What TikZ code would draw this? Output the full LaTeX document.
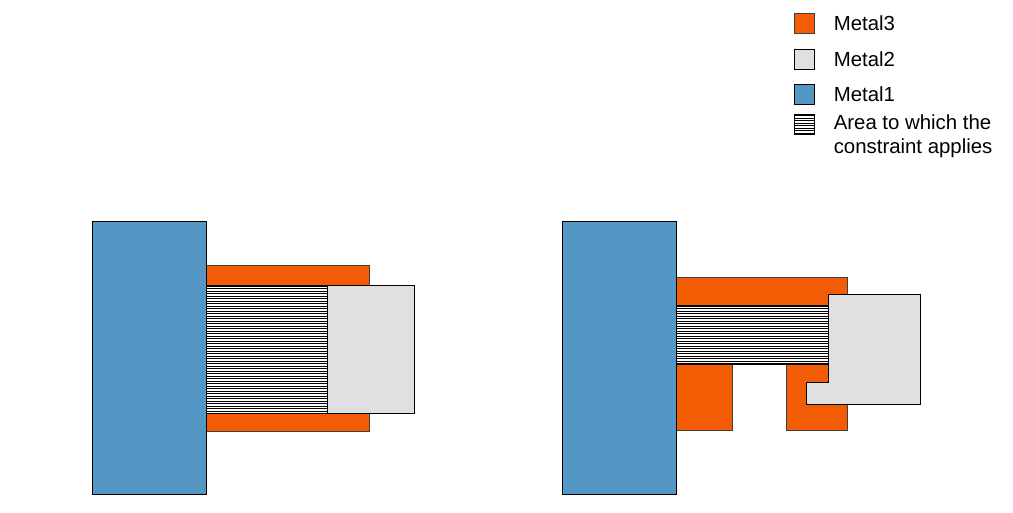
\documentclass[tikz,border=0pt]{standalone}
\usepackage{fontspec}
\setmainfont{Liberation Sans}
\usepackage{xcolor}
\usetikzlibrary{positioning}

\definecolor{metalthree}{RGB}{242,92,5}
\definecolor{metaltwo}{RGB}{224,224,224}
\definecolor{metalone}{RGB}{84,151,196}

\begin{document}
\begin{tikzpicture}[
            x=0.02cm, y=-0.02cm,
            layer/.style={draw=black, line width=0.5pt},
            mthree/.style={layer, draw=black!75, fill=metalthree},
            mtwo/.style={layer, fill=metaltwo},
            mone/.style={layer, fill=metalone},
            hatch/.style={layer, fill=white, path picture={
                \foreach \k in {1,...,60}
                    \draw[line width=0.75pt] ([yshift=-\k*0.05cm+0.025cm]path picture bounding box.north west) -- ++(4cm,0);}},
            swatch/.style={rectangle, minimum size=0.4cm, inner sep=0pt},
            lbl/.style={font=\fontsize{11.6}{13.6}\selectfont, inner sep=0pt, align=left}
        ]
        \useasboundingbox (0,0) rectangle (1013,512);

        % --- Left cell ---
        \draw[mthree] (206,265) rectangle (369,285);
        \draw[mthree] (206,413) rectangle (369,431);
        \draw[hatch] (206,285) rectangle (327,413);
        \draw[mtwo] (327,285) rectangle (414,413);
        \draw[mone] (92,221) rectangle (206,494);

        % --- Right cell ---
        \draw[mthree] (676,277) rectangle (847,305);
        \draw[mthree] (676,364) rectangle (732,430);
        \draw[mthree] (786,364) rectangle (847,430);
        \draw[hatch] (676,305) rectangle (828,364);
        \draw[mtwo] (828,294) -- (920,294) -- (920,404) -- (806,404) -- (806,382) -- (828,382) -- cycle;
        \draw[mone] (562,221) rectangle (676,494);

        % --- Legend ---
        \node[swatch, mthree] (sw3) at (804,23) {};
        \node[swatch, mtwo] (sw2) at (804,59.5) {};
        \node[swatch, mone] (sw1) at (804,94.5) {};
        \node[swatch, hatch] (swa) at (804,124.5) {};
        \node[lbl, right=0.38cm of sw3] (lg3) {Metal3};
        \node[lbl, right=0.38cm of sw2] (lg2) {Metal2};
        \node[lbl, right=0.38cm of sw1] (lg1) {Metal1};
        \node[lbl, anchor=north west] (lga) at ([xshift=0.38cm]swa.north east) {Area to which the\\constraint applies};

    \end{tikzpicture}
\end{document}
